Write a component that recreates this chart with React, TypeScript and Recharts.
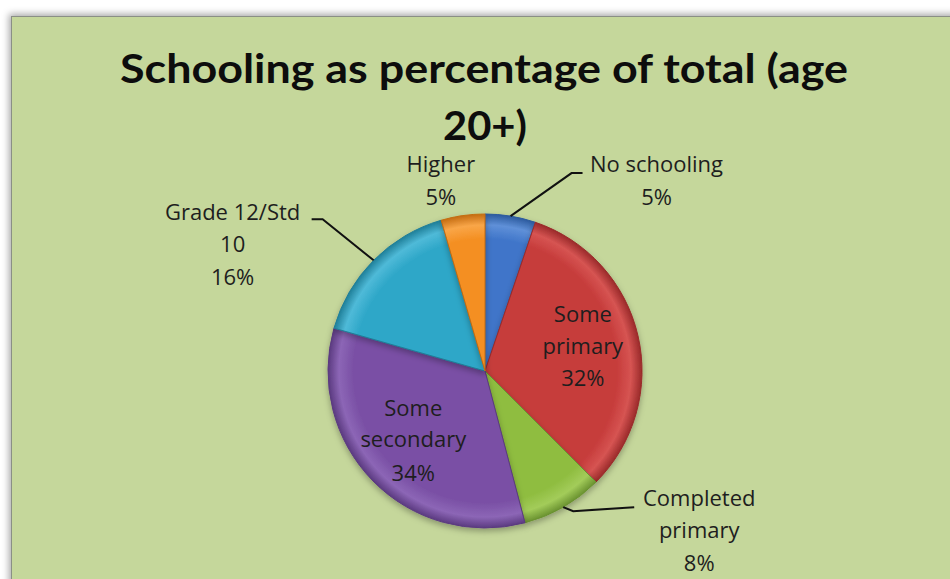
import React from "react";
import { PieChart, Pie, Cell } from "recharts";

const categories = [
  "No schooling",
  "Some primary",
  "Completed primary",
  "Some secondary",
  "Grade 12/Std 10",
  "Higher",
];
const shares = [5.2, 32.3, 8.4, 33.5, 16.1, 4.5];
const labelLines: string[][] = [
  ["No schooling"],
  ["Some", "primary"],
  ["Completed", "primary"],
  ["Some", "secondary"],
  ["Grade 12/Std", "10"],
  ["Higher"],
];
const titleLines = ["Schooling as percentage of total (age", "20+)"];

const data = categories.map((name, i) => ({ name, value: shares[i], lines: labelLines[i] }));

const COLORS = ["#3f75c9", "#c63c3b", "#8fbd40", "#7a50a5", "#2ea7c8", "#f48f22"];
const LIGHT = ["#5f90d8", "#d65452", "#a3cc5a", "#8c66b6", "#4fbad8", "#f9a648"];
const DARK = ["#2c5a9e", "#9a2a2a", "#6a9230", "#5b3a80", "#1f7f99", "#c46c12"];

const W = 950;
const H = 579;
const CX = 485;
const CY = 371;
const R = 157;
const RADIAN = Math.PI / 180;
const TITLE_FONT = "Lato, 'Open Sans', sans-serif";
const FONT = "'Open Sans', Lato, sans-serif";
const TEXT = "#1e1e1e";

type Layout = {
  inside?: boolean;
  leader?: [number, number][];
  tx: number;
  ty: number[];
};
const LAYOUT: Record<string, Layout> = {
  "No schooling": { leader: [[61, -43], [72, -43]], tx: 146, ty: [-44, -11] },
  "Some primary": { inside: true, tx: 0, ty: [-26, 6, 38] },
  "Completed primary": { leader: [[10, 4], [71, 0]], tx: 136, ty: [-1, 31, 64] },
  "Some secondary": { inside: true, tx: 0, ty: [-25, 6, 40] },
  "Grade 12/Std 10": { leader: [[-51, -41], [-62, -41]], tx: -141, ty: [-40, -8, 25] },
  Higher: { tx: -22, ty: [-44, -11] },
};

const renderLabel = (props: any) => {
  const { cx, cy, midAngle, outerRadius, percent, payload, name, index } = props;
  const key = name ?? payload?.name;
  const lay = LAYOUT[key];
  if (!lay) return null;
  const lines: string[] = [...(payload?.lines ?? labelLines[index]), `${Math.round(percent * 100)}%`];
  const rr = lay.inside ? outerRadius * 0.64 : outerRadius;
  const px = cx + rr * Math.cos(-midAngle * RADIAN);
  const py = cy + rr * Math.sin(-midAngle * RADIAN);
  const pts = lay.leader ? [[px, py], ...lay.leader.map(([dx, dy]) => [px + dx, py + dy])] : null;
  return (
    <g key={`lbl-${index}`}>
      {pts && (
        <polyline
          points={pts.map((p) => p.join(",")).join(" ")}
          fill="none"
          stroke="#111"
          strokeWidth={2}
        />
      )}
      {lines.map((t, i) => (
        <text
          key={i}
          x={px + lay.tx}
          y={py + lay.ty[i]}
          textAnchor="middle"
          fontFamily={FONT}
          fontSize={22}
          fill={TEXT}
        >
          {t}
        </text>
      ))}
    </g>
  );
};

export default function App() {
  return (
    <div style={{ position: "absolute", left: 0, top: 0, width: W, height: H, overflow: "hidden", background: "#ffffff" }}>
      <div
        style={{
          position: "absolute",
          left: 11,
          top: 16,
          width: W,
          height: H,
          background: "#c5d79b",
          borderLeft: "1.5px solid #8a8f86",
          borderTop: "1.5px solid #8a8f86",
          boxShadow: "0 0 7px 2px rgba(0,0,0,0.35)",
        }}
      />
      <svg width={W} height={H} style={{ position: "absolute", left: 0, top: 0 }}>
        <text
          x={484}
          y={83}
          textAnchor="middle"
          fontFamily={TITLE_FONT}
          fontWeight={700}
          fontSize={40}
          fill="#0d0d0d"
          textLength={728}
          lengthAdjust="spacingAndGlyphs"
        >
          {titleLines[0]}
        </text>
        <text
          x={485}
          y={140}
          textAnchor="middle"
          fontFamily={TITLE_FONT}
          fontWeight={700}
          fontSize={40}
          fill="#0d0d0d"
          textLength={84}
          lengthAdjust="spacingAndGlyphs"
        >
          {titleLines[1]}
        </text>
      </svg>
      <div style={{ position: "absolute", left: 0, top: 0 }}>
        <PieChart width={W} height={H} margin={{ top: 0, right: 0, bottom: 0, left: 0 }}>
          <defs>
            {COLORS.map((c, i) => (
              <radialGradient
                key={i}
                id={`g${i}`}
                gradientUnits="userSpaceOnUse"
                cx={CX}
                cy={CY}
                r={R}
              >
                <stop offset="0%" stopColor={c} />
                <stop offset="84%" stopColor={c} />
                <stop offset="93%" stopColor={LIGHT[i]} />
                <stop offset="100%" stopColor={DARK[i]} />
              </radialGradient>
            ))}
            <filter id="pieShadow" x="-20%" y="-20%" width="140%" height="140%">
              <feDropShadow dx="0" dy="3" stdDeviation="3" floodColor="#000" floodOpacity="0.3" />
            </filter>
          </defs>
          <Pie
            data={data}
            dataKey="value"
            nameKey="name"
            cx={CX}
            cy={CY}
            outerRadius={R}
            startAngle={90}
            endAngle={-270}
            isAnimationActive={false}
            label={renderLabel}
            labelLine={false}
            stroke="none"
            style={{ filter: "url(#pieShadow)" }}
          >
            {data.map((d, i) => (
              <Cell key={d.name} fill={`url(#g${i})`} stroke={DARK[i]} strokeWidth={1} />
            ))}
          </Pie>
        </PieChart>
      </div>
    </div>
  );
}
